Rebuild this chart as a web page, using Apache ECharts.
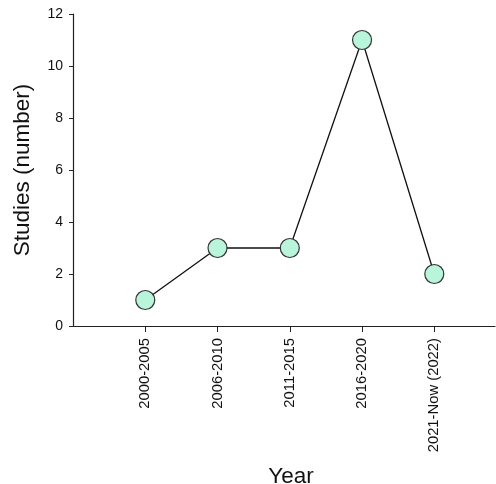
<!DOCTYPE html>
<html>
<head>
<meta charset="utf-8">
<script src="https://cdn.jsdelivr.net/npm/echarts@6/dist/echarts.min.js"></script>
<style>html,body{margin:0;padding:0;background:#fff}#c{width:496px;height:484px}</style>
</head>
<body>
<div id="c"></div>
<script>
const categories = ['2000-2005', '2006-2010', '2011-2015', '2016-2020', '2021-Now (2022)'];
const positions = [1, 2, 3, 4, 5];
const studies = [1, 3, 3, 11, 2];
const yTicks = [0, 2, 4, 6, 8, 10, 12];

const chart = echarts.init(document.getElementById('c'));
const font = 'Liberation Sans, Arial, sans-serif';
chart.setOption({
  animation: false,
  backgroundColor: '#fff',
  grid: { left: 73, right: 1, top: 14, bottom: 158, containLabel: false, outerBoundsMode: 'none' },
  xAxis: {
    type: 'value', min: 0, max: 5.84,
    axisLine: { show: true, lineStyle: { color: '#222', width: 1.2 } },
    axisTick: { show: true, length: 6, customValues: positions, lineStyle: { color: '#222' } },
    axisLabel: {
      customValues: positions, rotate: 90, margin: 12,
      fontFamily: font, fontSize: 14.8, color: '#111',
      formatter: v => categories[positions.indexOf(v)] || ''
    },
    splitLine: { show: false },
    name: 'Year', nameLocation: 'middle', nameGap: 139,
    nameTextStyle: { fontFamily: font, fontSize: 22.5, color: '#111', padding: [0, 0, 0, 14] }
  },
  yAxis: {
    type: 'value', min: 0, max: 12, interval: 2,
    axisLine: { show: true, lineStyle: { color: '#222', width: 1.2 } },
    axisTick: { show: true, length: 4, lineStyle: { color: '#222' } },
    axisLabel: { margin: 10, fontFamily: font, fontSize: 14, color: '#111' },
    splitLine: { show: false },
    name: 'Studies (number)', nameLocation: 'middle', nameGap: 39,
    nameTextStyle: { fontFamily: font, fontSize: 22.5, color: '#111' }
  },
  series: [{
    type: 'line',
    data: positions.map((p, i) => [p, studies[i]]),
    symbol: 'circle', symbolSize: 19,
    lineStyle: { color: '#111', width: 1.3 },
    itemStyle: { color: '#b9f5da', borderColor: '#333', borderWidth: 1.2 }
  }]
});
</script>
</body>
</html>
